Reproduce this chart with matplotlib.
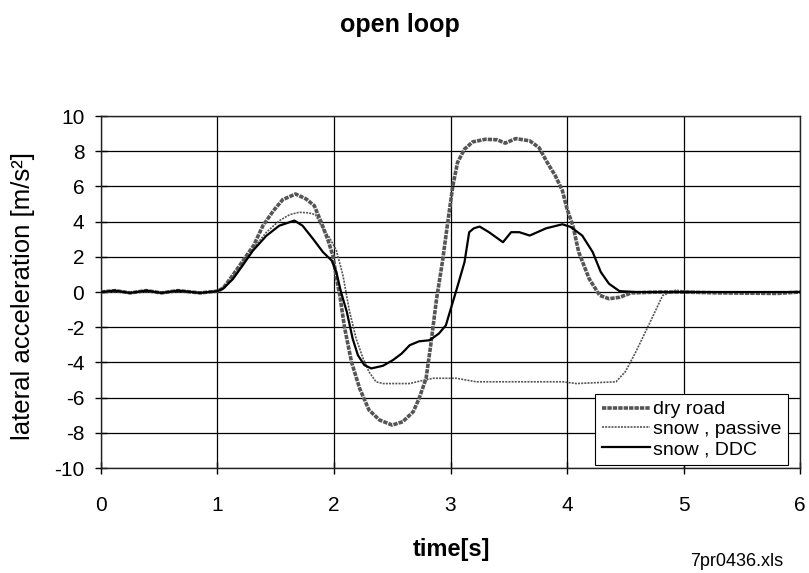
import matplotlib
matplotlib.use("Agg")
import matplotlib.pyplot as plt

plt.rcParams['font.family'] = ['Liberation Sans', 'DejaVu Sans']
plt.rcParams['axes.unicode_minus'] = False

# ---- data ----
t_dry = [0.0, 0.12, 0.25, 0.39, 0.52, 0.66, 0.85, 1.0, 1.05, 1.13, 1.22, 1.31, 1.39, 1.48,
         1.56, 1.67, 1.76, 1.83, 1.89, 1.95, 1.99, 2.02, 2.05, 2.09, 2.15, 2.22, 2.30, 2.39,
         2.50, 2.59, 2.68, 2.73, 2.79, 2.83, 2.88, 2.93, 2.98, 3.02, 3.06, 3.12, 3.19, 3.30,
         3.40, 3.47, 3.56, 3.68, 3.76, 3.83, 3.90, 3.96, 4.00, 4.05, 4.10, 4.19, 4.28, 4.36,
         4.45, 4.55, 4.8, 5.0, 5.3, 5.8, 6.0]
y_dry = [0.0, 0.08, -0.05, 0.08, -0.05, 0.08, -0.05, 0.05, 0.23, 0.94, 1.79, 2.64, 3.77, 4.62,
         5.25, 5.57, 5.29, 4.91, 3.97, 2.92, 2.07, 0.85, -0.2, -2.0, -3.97, -5.48, -6.7, -7.27,
         -7.56, -7.37, -6.8, -6.05, -4.91, -3.02, -0.4, 1.7, 4.15, 6.04, 7.36, 8.12, 8.53, 8.68,
         8.65, 8.46, 8.72, 8.59, 8.2, 7.36, 6.6, 5.76, 4.72, 3.77, 2.27, 0.75, -0.19, -0.38,
         -0.3, -0.05, 0.0, 0.0, -0.05, -0.08, 0.0]

t_pas = [0.0, 0.12, 0.25, 0.39, 0.52, 0.66, 0.85, 1.0, 1.05, 1.13, 1.22, 1.31, 1.42, 1.53,
         1.62, 1.70, 1.78, 1.84, 1.905, 1.96, 2.02, 2.077, 2.13, 2.19, 2.25, 2.30, 2.36, 2.42,
         2.65, 2.71, 2.85, 3.05, 3.22, 3.96, 4.08, 4.42, 4.50, 4.59, 4.70, 4.82, 4.93, 5.02,
         5.13, 6.0]
y_pas = [0.0, 0.08, -0.05, 0.08, -0.05, 0.08, -0.05, 0.05, 0.22, 0.85, 1.7, 2.5, 3.4, 4.05,
         4.4, 4.53, 4.5, 4.4, 3.58, 3.11, 2.36, 0.94, -1.0, -2.65, -3.78, -4.53, -5.1, -5.2,
         -5.2, -5.1, -4.9, -4.9, -5.1, -5.1, -5.2, -5.1, -4.53, -3.4, -1.89, -0.2, 0.1, 0.05,
         0.0, 0.0]

t_ddc = [0.0, 0.12, 0.25, 0.39, 0.52, 0.66, 0.85, 1.0, 1.05, 1.134, 1.22, 1.305, 1.42, 1.53,
         1.66, 1.73, 1.82, 1.905, 1.98, 2.02, 2.06, 2.11, 2.16, 2.205, 2.26, 2.32, 2.42, 2.505,
         2.58, 2.65, 2.73, 2.82, 2.90, 2.96, 3.00, 3.05, 3.12, 3.16, 3.20, 3.25, 3.33, 3.45,
         3.52, 3.59, 3.68, 3.82, 3.96, 4.03, 4.13, 4.22, 4.29, 4.36, 4.45, 4.6, 6.0]
y_ddc = [0.0, 0.08, -0.05, 0.08, -0.05, 0.08, -0.05, 0.05, 0.2, 0.75, 1.55, 2.36, 3.2, 3.77,
         4.06, 3.77, 3.02, 2.27, 1.79, 1.13, 0.0, -1.13, -2.65, -3.59, -4.15, -4.34, -4.19, -3.87,
         -3.5, -3.02, -2.8, -2.74, -2.36, -1.89, -1.0, 0.1, 1.7, 3.4, 3.62, 3.72, 3.4, 2.83,
         3.4, 3.4, 3.21, 3.62, 3.85, 3.7, 3.21, 2.27, 1.13, 0.47, 0.05, 0.0, 0.0]

labels = ["dry road", "snow , passive", "snow , DDC"]
x_ticks = [0, 1, 2, 3, 4, 5, 6]
y_ticks = [-10, -8, -6, -4, -2, 0, 2, 4, 6, 8, 10]

fig = plt.figure(figsize=(8.09, 5.73), dpi=100)
ax = fig.add_axes([0.1248, 0.1832, 0.8642, 0.6143])

ax.plot(t_dry, y_dry, color='#555555', lw=2.6, linestyle=(0, (1.2, 0.3)), label=labels[0], zorder=3)
ax.plot(t_pas, y_pas, color='#555555', lw=1.2, linestyle=(0, (1.2, 0.7)), label=labels[1], zorder=4)
ax.plot(t_ddc, y_ddc, color='black', lw=1.6, label=labels[2], zorder=5)

ax.set_xlim(0, 6)
ax.set_ylim(-10, 10)
ax.set_xticks(x_ticks)
ax.set_yticks(y_ticks)
ax.grid(True, color='black', lw=0.9)
ax.set_axisbelow(True)
for s in ax.spines.values():
    s.set_color('#222222')
    s.set_linewidth(1.0)

ax.tick_params(axis='both', direction='inout', length=8, width=1, labelsize=15)
ax.tick_params(axis='x', pad=16)
ax.tick_params(axis='y', pad=8)

ax.set_ylabel("lateral acceleration [m/s²]", fontsize=18.5)
ax.yaxis.set_label_coords(-0.094, 0.49)
ax.set_xlabel("time[s]", fontsize=17, fontweight='bold')
ax.xaxis.set_label_coords(0.502, -0.198)

fig.text(0.494, 0.978, "open loop", fontsize=18, fontweight='bold', ha='center', va='top')
fig.text(0.91, 0.005, "7pr0436.xls", fontsize=13, ha='center', va='bottom')

leg = ax.legend(loc='lower right', bbox_to_anchor=(0.983, 0.0085), fontsize=14,
                frameon=True, fancybox=False, framealpha=1, edgecolor='black',
                handlelength=2.5, handletextpad=0.15, borderpad=0.35, labelspacing=0.12,
                borderaxespad=0.0)
leg.get_frame().set_linewidth(0.8)

fig.savefig("out.png", dpi=100)
